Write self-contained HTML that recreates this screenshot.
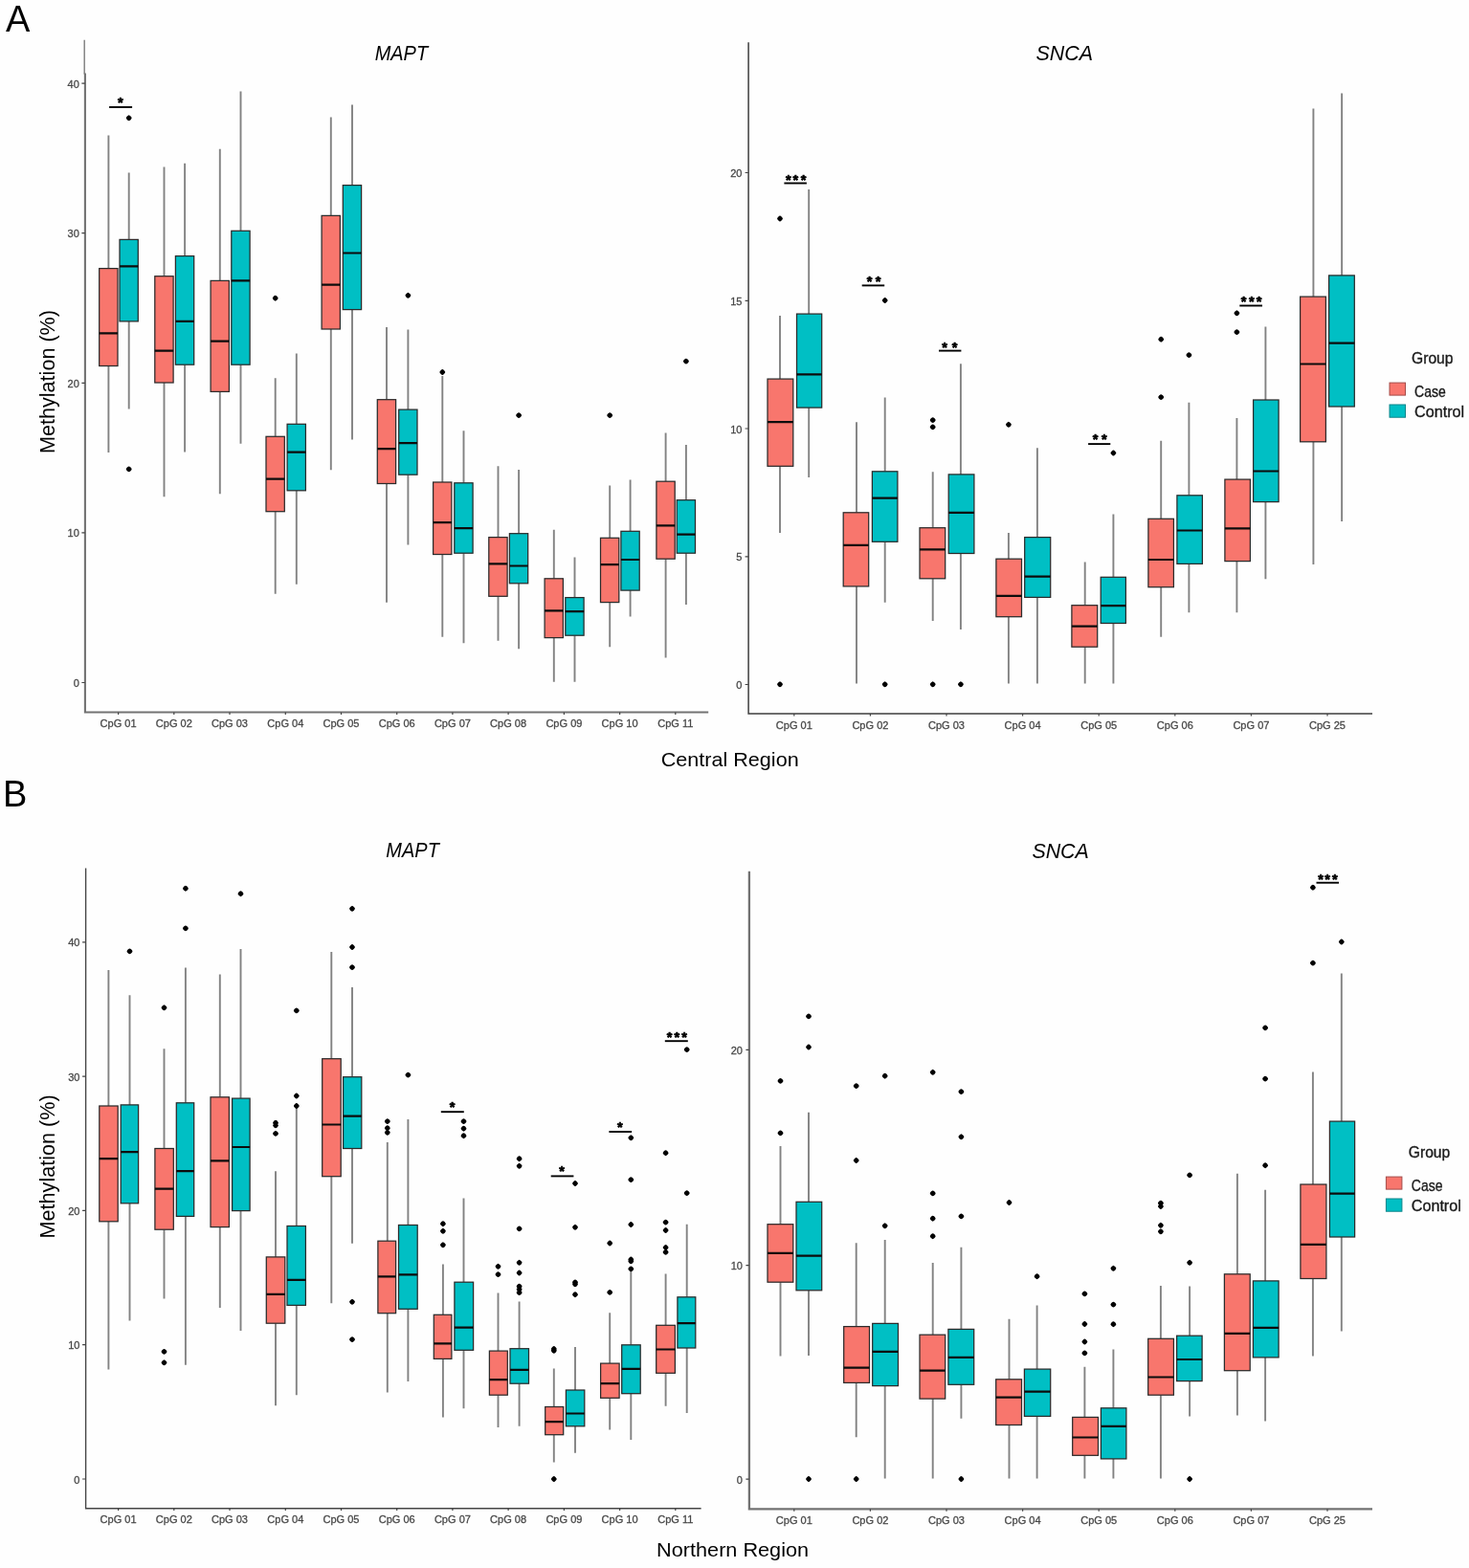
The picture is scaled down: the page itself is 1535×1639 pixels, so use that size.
<!DOCTYPE html>
<html lang="en"><head><meta charset="utf-8"><title>MAPT and SNCA methylation by region</title>
<style>
html,body{margin:0;padding:0;background:#fff;}
body{width:1535px;height:1639px;overflow:hidden;}
svg{display:block;}
text{font-family:"Liberation Sans",Arial,Helvetica,sans-serif;fill:#111;}
.tk{font-size:11.8px;fill:#484848;stroke:#484848;stroke-width:0.3px;}
.star{font-size:14.5px;font-weight:bold;text-anchor:middle;fill:#000;stroke:#000;stroke-width:0.7px;stroke-linejoin:round;}
.panel{font-size:38px;fill:#000;}
.title{font-size:21.4px;font-style:italic;text-anchor:middle;fill:#000;}
.axl{font-size:20.5px;text-anchor:middle;fill:#000;}
.ayl{font-size:21.5px;text-anchor:middle;fill:#000;}
.lgt{font-size:16.2px;fill:#1a1a1a;stroke:#1a1a1a;stroke-width:0.35px;}
.lg{font-size:16.2px;fill:#1a1a1a;stroke:#1a1a1a;stroke-width:0.35px;}
</style></head><body>
<svg width="1535" height="1639" viewBox="0 0 1535 1639">
<rect width="1535" height="1639" fill="#fefefe"/>
<g>
<text x="5.9" y="32.6" class="panel">A</text>
<text x="2.9" y="843.1" class="panel">B</text>
<path d="M88.2 41.7V77.5" stroke="#7c7c7c" stroke-width="1.4" fill="none"/>
<path d="M88.9 76.5V744.5H740.2" stroke="#727272" stroke-width="2.1" fill="none"/>
<path d="M85.4 87.1H88.9M85.4 243.7H88.9M85.4 400.3H88.9M85.4 556.9H88.9M85.4 713.5H88.9M123.6 744.5V746.9M181.8 744.5V746.9M240 744.5V746.9M298.3 744.5V746.9M356.5 744.5V746.9M414.7 744.5V746.9M472.9 744.5V746.9M531.1 744.5V746.9M589.4 744.5V746.9M647.6 744.5V746.9M705.8 744.5V746.9" stroke="#444" stroke-width="1.2" fill="none"/>
<text transform="translate(82.8 91.6) scale(0.935 1)" class="tk" text-anchor="end">40</text>
<text transform="translate(82.8 248.2) scale(0.935 1)" class="tk" text-anchor="end">30</text>
<text transform="translate(82.8 404.8) scale(0.935 1)" class="tk" text-anchor="end">20</text>
<text transform="translate(82.8 561.4) scale(0.935 1)" class="tk" text-anchor="end">10</text>
<text transform="translate(82.8 718) scale(0.935 1)" class="tk" text-anchor="end">0</text>
<text transform="translate(123.6 760) scale(0.935 1)" class="tk" text-anchor="middle">CpG 01</text>
<text transform="translate(181.8 760) scale(0.935 1)" class="tk" text-anchor="middle">CpG 02</text>
<text transform="translate(240 760) scale(0.935 1)" class="tk" text-anchor="middle">CpG 03</text>
<text transform="translate(298.3 760) scale(0.935 1)" class="tk" text-anchor="middle">CpG 04</text>
<text transform="translate(356.5 760) scale(0.935 1)" class="tk" text-anchor="middle">CpG 05</text>
<text transform="translate(414.7 760) scale(0.935 1)" class="tk" text-anchor="middle">CpG 06</text>
<text transform="translate(472.9 760) scale(0.935 1)" class="tk" text-anchor="middle">CpG 07</text>
<text transform="translate(531.1 760) scale(0.935 1)" class="tk" text-anchor="middle">CpG 08</text>
<text transform="translate(589.4 760) scale(0.935 1)" class="tk" text-anchor="middle">CpG 09</text>
<text transform="translate(647.6 760) scale(0.935 1)" class="tk" text-anchor="middle">CpG 10</text>
<text transform="translate(705.8 760) scale(0.935 1)" class="tk" text-anchor="middle">CpG 11</text>
<g id="a-mapt">
<path d="M113.4 141.5V280.6M113.4 382.5V473M134.7 180.6V250.4M134.7 335.9V427.4M171.5 174.6V288.7M171.5 400V519.3M193.1 170.7V267.6M193.1 381.2V472.4M229.8 155.8V293.4M229.8 409.4V516.2M251.5 95.4V241.3M251.5 381.2V463.8M287.7 395.3V456.3M287.7 534.7V620.7M309.8 369.5V443.3M309.8 512.8V610.8M345.8 122.5V225.4M345.8 344V491.2M368 109.4V193.6M368 323.6V459.4M404 341.9V417.7M404 505.5V629.8M426.4 344.5V428.1M426.4 496.2V569.4M462.3 393V504M462.3 579.5V665.8M484.5 450.3V504.8M484.5 578.2V672.3M520.5 487.3V561.6M520.5 623.3V669.7M542.1 491V557.7M542.1 609.8V678.3M578.8 553.7V604.8M578.8 666.6V712.7M600.5 582.4V624.6M600.5 664.2V712.7M637.2 507.4V562.3M637.2 629.6V676.2M658.6 501.6V555.3M658.6 617.1V644.4M695.6 452.4V503.2M695.6 584.2V687.4M716.9 465.1V522.7M716.9 578.2V631.9" stroke="#828282" stroke-width="1.9" fill="none"/>
<rect x="103.7" y="280.6" width="19.3" height="101.9" fill="#F8766D" stroke="#2b2b2b" stroke-width="1.25"/>
<rect x="125" y="250.4" width="19.3" height="85.5" fill="#00BFC4" stroke="#2b2b2b" stroke-width="1.25"/>
<rect x="161.8" y="288.7" width="19.3" height="111.3" fill="#F8766D" stroke="#2b2b2b" stroke-width="1.25"/>
<rect x="183.4" y="267.6" width="19.3" height="113.6" fill="#00BFC4" stroke="#2b2b2b" stroke-width="1.25"/>
<rect x="220.1" y="293.4" width="19.3" height="116" fill="#F8766D" stroke="#2b2b2b" stroke-width="1.25"/>
<rect x="241.8" y="241.3" width="19.3" height="139.9" fill="#00BFC4" stroke="#2b2b2b" stroke-width="1.25"/>
<rect x="278" y="456.3" width="19.3" height="78.4" fill="#F8766D" stroke="#2b2b2b" stroke-width="1.25"/>
<rect x="300.1" y="443.3" width="19.3" height="69.5" fill="#00BFC4" stroke="#2b2b2b" stroke-width="1.25"/>
<rect x="336.1" y="225.4" width="19.3" height="118.6" fill="#F8766D" stroke="#2b2b2b" stroke-width="1.25"/>
<rect x="358.3" y="193.6" width="19.3" height="130" fill="#00BFC4" stroke="#2b2b2b" stroke-width="1.25"/>
<rect x="394.3" y="417.7" width="19.3" height="87.8" fill="#F8766D" stroke="#2b2b2b" stroke-width="1.25"/>
<rect x="416.7" y="428.1" width="19.3" height="68.1" fill="#00BFC4" stroke="#2b2b2b" stroke-width="1.25"/>
<rect x="452.6" y="504" width="19.3" height="75.5" fill="#F8766D" stroke="#2b2b2b" stroke-width="1.25"/>
<rect x="474.8" y="504.8" width="19.3" height="73.4" fill="#00BFC4" stroke="#2b2b2b" stroke-width="1.25"/>
<rect x="510.8" y="561.6" width="19.3" height="61.7" fill="#F8766D" stroke="#2b2b2b" stroke-width="1.25"/>
<rect x="532.4" y="557.7" width="19.3" height="52.1" fill="#00BFC4" stroke="#2b2b2b" stroke-width="1.25"/>
<rect x="569.1" y="604.8" width="19.3" height="61.8" fill="#F8766D" stroke="#2b2b2b" stroke-width="1.25"/>
<rect x="590.8" y="624.6" width="19.3" height="39.6" fill="#00BFC4" stroke="#2b2b2b" stroke-width="1.25"/>
<rect x="627.5" y="562.3" width="19.3" height="67.3" fill="#F8766D" stroke="#2b2b2b" stroke-width="1.25"/>
<rect x="648.9" y="555.3" width="19.3" height="61.8" fill="#00BFC4" stroke="#2b2b2b" stroke-width="1.25"/>
<rect x="685.9" y="503.2" width="19.3" height="81" fill="#F8766D" stroke="#2b2b2b" stroke-width="1.25"/>
<rect x="707.2" y="522.7" width="19.3" height="55.5" fill="#00BFC4" stroke="#2b2b2b" stroke-width="1.25"/>
<path d="M103.7 348.4H123M125 278.3H144.3M161.8 366.6H181.1M183.4 335.9H202.7M220.1 356.7H239.4M241.8 293.4H261.1M278 500.6H297.3M300.1 472.7H319.4M336.1 297.6H355.4M358.3 264.5H377.6M394.3 469.1H413.6M416.7 463.1H436M452.6 546.2H471.9M474.8 552.2H494.1M510.8 589.4H530.1M532.4 591.5H551.7M569.1 638.4H588.4M590.8 639.2H610.1M627.5 590.2H646.8M648.9 585H668.2M685.9 549.3H705.2M707.2 558.7H726.5" stroke="#0c0c0c" stroke-width="2.2" fill="none"/>
<path d="M137.65 123.30L137.34 124.08L136.53 125.13L135.48 125.94L134.70 126.25L133.92 125.94L132.87 125.13L132.06 124.08L131.75 123.30L132.06 122.52L132.87 121.47L133.92 120.66L134.70 120.35L135.48 120.66L136.53 121.47L137.34 122.52ZM137.65 490.40L137.34 491.18L136.53 492.23L135.48 493.04L134.70 493.35L133.92 493.04L132.87 492.23L132.06 491.18L131.75 490.40L132.06 489.62L132.87 488.57L133.92 487.76L134.70 487.45L135.48 487.76L136.53 488.57L137.34 489.62ZM290.65 311.70L290.34 312.48L289.53 313.53L288.48 314.34L287.70 314.65L286.92 314.34L285.87 313.53L285.06 312.48L284.75 311.70L285.06 310.92L285.87 309.87L286.92 309.06L287.70 308.75L288.48 309.06L289.53 309.87L290.34 310.92ZM429.35 308.80L429.04 309.58L428.23 310.63L427.18 311.44L426.40 311.75L425.62 311.44L424.57 310.63L423.76 309.58L423.45 308.80L423.76 308.02L424.57 306.97L425.62 306.16L426.40 305.85L427.18 306.16L428.23 306.97L429.04 308.02ZM465.25 389.00L464.94 389.78L464.13 390.83L463.08 391.64L462.30 391.95L461.52 391.64L460.47 390.83L459.66 389.78L459.35 389.00L459.66 388.22L460.47 387.17L461.52 386.36L462.30 386.05L463.08 386.36L464.13 387.17L464.94 388.22ZM545.05 434.10L544.74 434.88L543.93 435.93L542.88 436.74L542.10 437.05L541.32 436.74L540.27 435.93L539.46 434.88L539.15 434.10L539.46 433.32L540.27 432.27L541.32 431.46L542.10 431.15L542.88 431.46L543.93 432.27L544.74 433.32ZM640.15 434.10L639.84 434.88L639.03 435.93L637.98 436.74L637.20 437.05L636.42 436.74L635.37 435.93L634.56 434.88L634.25 434.10L634.56 433.32L635.37 432.27L636.42 431.46L637.20 431.15L637.98 431.46L639.03 432.27L639.84 433.32ZM719.85 377.60L719.54 378.38L718.73 379.43L717.68 380.24L716.90 380.55L716.12 380.24L715.07 379.43L714.26 378.38L713.95 377.60L714.26 376.82L715.07 375.77L716.12 374.96L716.90 374.65L717.68 374.96L718.73 375.77L719.54 376.82Z" fill="#000"/>
</g>
<path d="M114.1 112H138.1" stroke="#000" stroke-width="1.9" fill="none"/>
<text x="125.9" y="111.8" class="star">*</text>
<text x="419.4" y="63.3" class="title" textLength="55.5" lengthAdjust="spacingAndGlyphs">MAPT</text>
<path d="M782.1 44.3V746.1H1434" stroke="#3e3e3e" stroke-width="1.5" fill="none"/>
<path d="M778.6 180.5H782.1M778.6 314.3H782.1M778.6 448H782.1M778.6 581.8H782.1M778.6 715.5H782.1M829.8 746.1V748.5M909.4 746.1V748.5M989 746.1V748.5M1068.6 746.1V748.5M1148.2 746.1V748.5M1227.8 746.1V748.5M1307.4 746.1V748.5M1387 746.1V748.5" stroke="#444" stroke-width="1.2" fill="none"/>
<text transform="translate(775.5 185) scale(0.935 1)" class="tk" text-anchor="end">20</text>
<text transform="translate(775.5 318.8) scale(0.935 1)" class="tk" text-anchor="end">15</text>
<text transform="translate(775.5 452.5) scale(0.935 1)" class="tk" text-anchor="end">10</text>
<text transform="translate(775.5 586.3) scale(0.935 1)" class="tk" text-anchor="end">5</text>
<text transform="translate(775.5 720) scale(0.935 1)" class="tk" text-anchor="end">0</text>
<text transform="translate(829.8 761.5) scale(0.935 1)" class="tk" text-anchor="middle">CpG 01</text>
<text transform="translate(909.4 761.5) scale(0.935 1)" class="tk" text-anchor="middle">CpG 02</text>
<text transform="translate(989 761.5) scale(0.935 1)" class="tk" text-anchor="middle">CpG 03</text>
<text transform="translate(1068.6 761.5) scale(0.935 1)" class="tk" text-anchor="middle">CpG 04</text>
<text transform="translate(1148.2 761.5) scale(0.935 1)" class="tk" text-anchor="middle">CpG 05</text>
<text transform="translate(1227.8 761.5) scale(0.935 1)" class="tk" text-anchor="middle">CpG 06</text>
<text transform="translate(1307.4 761.5) scale(0.935 1)" class="tk" text-anchor="middle">CpG 07</text>
<text transform="translate(1387 761.5) scale(0.935 1)" class="tk" text-anchor="middle">CpG 25</text>
<g id="a-snca">
<path d="M815 329.9V396.1M815 487.3V557.1M845.2 198V328.1M845.2 426.1V499M895 441.2V535.8M895 612.9V714.5M924.7 415.6V492.8M924.7 566.3V629.8M974.7 493.3V551.7M974.7 604.8V648.9M1003.9 380.2V495.9M1003.9 578.5V658M1053.9 557.1V584.2M1053.9 644.7V714.5M1083.9 468.3V561.6M1083.9 624.4V714.5M1133.7 587.6V632.7M1133.7 676.2V714.5M1163.4 537.6V603.3M1163.4 651.5V714.5M1213.2 460.7V542.3M1213.2 613.7V665.8M1242.4 420.8V517.8M1242.4 589.4V640.3M1292.4 437V501.1M1292.4 586.6V640.3M1322.4 341.4V418M1322.4 524.6V605.3M1372.4 113.4V310.1M1372.4 461.8V590M1402.1 97.5V287.9M1402.1 425V545.1" stroke="#828282" stroke-width="1.9" fill="none"/>
<rect x="802" y="396.1" width="26.8" height="91.2" fill="#F8766D" stroke="#2b2b2b" stroke-width="1.25"/>
<rect x="832.5" y="328.1" width="26.2" height="98" fill="#00BFC4" stroke="#2b2b2b" stroke-width="1.25"/>
<rect x="881.2" y="535.8" width="26.5" height="77.1" fill="#F8766D" stroke="#2b2b2b" stroke-width="1.25"/>
<rect x="911.4" y="492.8" width="26.5" height="73.5" fill="#00BFC4" stroke="#2b2b2b" stroke-width="1.25"/>
<rect x="961" y="551.7" width="26.7" height="53.1" fill="#F8766D" stroke="#2b2b2b" stroke-width="1.25"/>
<rect x="991.2" y="495.9" width="26.7" height="82.6" fill="#00BFC4" stroke="#2b2b2b" stroke-width="1.25"/>
<rect x="1040.9" y="584.2" width="26.6" height="60.5" fill="#F8766D" stroke="#2b2b2b" stroke-width="1.25"/>
<rect x="1070.7" y="561.6" width="27" height="62.8" fill="#00BFC4" stroke="#2b2b2b" stroke-width="1.25"/>
<rect x="1119.9" y="632.7" width="26.8" height="43.5" fill="#F8766D" stroke="#2b2b2b" stroke-width="1.25"/>
<rect x="1150.2" y="603.3" width="26.2" height="48.2" fill="#00BFC4" stroke="#2b2b2b" stroke-width="1.25"/>
<rect x="1199.9" y="542.3" width="26.5" height="71.4" fill="#F8766D" stroke="#2b2b2b" stroke-width="1.25"/>
<rect x="1229.9" y="517.8" width="26.5" height="71.6" fill="#00BFC4" stroke="#2b2b2b" stroke-width="1.25"/>
<rect x="1279.9" y="501.1" width="26.5" height="85.5" fill="#F8766D" stroke="#2b2b2b" stroke-width="1.25"/>
<rect x="1309.6" y="418" width="26.5" height="106.6" fill="#00BFC4" stroke="#2b2b2b" stroke-width="1.25"/>
<rect x="1358.6" y="310.1" width="26.8" height="151.7" fill="#F8766D" stroke="#2b2b2b" stroke-width="1.25"/>
<rect x="1388.6" y="287.9" width="26.7" height="137.1" fill="#00BFC4" stroke="#2b2b2b" stroke-width="1.25"/>
<path d="M802 441.2H828.8M832.5 391.4H858.7M881.2 569.9H907.7M911.4 520.7H937.9M961 574.3H987.7M991.2 535.8H1017.9M1040.9 622.8H1067.5M1070.7 602.7H1097.7M1119.9 654.6H1146.7M1150.2 633.2H1176.4M1199.9 585H1226.4M1229.9 554.5H1256.4M1279.9 552.4H1306.4M1309.6 492.5H1336.1M1358.6 380.5H1385.4M1388.6 358.6H1415.3" stroke="#0c0c0c" stroke-width="2.2" fill="none"/>
<path d="M817.95 228.50L817.64 229.28L816.83 230.33L815.78 231.14L815.00 231.45L814.22 231.14L813.17 230.33L812.36 229.28L812.05 228.50L812.36 227.72L813.17 226.67L814.22 225.86L815.00 225.55L815.78 225.86L816.83 226.67L817.64 227.72ZM817.95 715.30L817.64 716.08L816.83 717.13L815.78 717.94L815.00 718.25L814.22 717.94L813.17 717.13L812.36 716.08L812.05 715.30L812.36 714.52L813.17 713.47L814.22 712.66L815.00 712.35L815.78 712.66L816.83 713.47L817.64 714.52ZM927.65 314.00L927.34 314.78L926.53 315.83L925.48 316.64L924.70 316.95L923.92 316.64L922.87 315.83L922.06 314.78L921.75 314.00L922.06 313.22L922.87 312.17L923.92 311.36L924.70 311.05L925.48 311.36L926.53 312.17L927.34 313.22ZM927.65 715.30L927.34 716.08L926.53 717.13L925.48 717.94L924.70 718.25L923.92 717.94L922.87 717.13L922.06 716.08L921.75 715.30L922.06 714.52L922.87 713.47L923.92 712.66L924.70 712.35L925.48 712.66L926.53 713.47L927.34 714.52ZM977.65 439.10L977.34 439.88L976.53 440.93L975.48 441.74L974.70 442.05L973.92 441.74L972.87 440.93L972.06 439.88L971.75 439.10L972.06 438.32L972.87 437.27L973.92 436.46L974.70 436.15L975.48 436.46L976.53 437.27L977.34 438.32ZM977.65 446.40L977.34 447.18L976.53 448.23L975.48 449.04L974.70 449.35L973.92 449.04L972.87 448.23L972.06 447.18L971.75 446.40L972.06 445.62L972.87 444.57L973.92 443.76L974.70 443.45L975.48 443.76L976.53 444.57L977.34 445.62ZM977.65 715.30L977.34 716.08L976.53 717.13L975.48 717.94L974.70 718.25L973.92 717.94L972.87 717.13L972.06 716.08L971.75 715.30L972.06 714.52L972.87 713.47L973.92 712.66L974.70 712.35L975.48 712.66L976.53 713.47L977.34 714.52ZM1006.85 715.30L1006.54 716.08L1005.73 717.13L1004.68 717.94L1003.90 718.25L1003.12 717.94L1002.07 717.13L1001.26 716.08L1000.95 715.30L1001.26 714.52L1002.07 713.47L1003.12 712.66L1003.90 712.35L1004.68 712.66L1005.73 713.47L1006.54 714.52ZM1056.85 443.80L1056.54 444.58L1055.73 445.63L1054.68 446.44L1053.90 446.75L1053.12 446.44L1052.07 445.63L1051.26 444.58L1050.95 443.80L1051.26 443.02L1052.07 441.97L1053.12 441.16L1053.90 440.85L1054.68 441.16L1055.73 441.97L1056.54 443.02ZM1166.35 473.50L1166.04 474.28L1165.23 475.33L1164.18 476.14L1163.40 476.45L1162.62 476.14L1161.57 475.33L1160.76 474.28L1160.45 473.50L1160.76 472.72L1161.57 471.67L1162.62 470.86L1163.40 470.55L1164.18 470.86L1165.23 471.67L1166.04 472.72ZM1216.15 354.70L1215.84 355.48L1215.03 356.53L1213.98 357.34L1213.20 357.65L1212.42 357.34L1211.37 356.53L1210.56 355.48L1210.25 354.70L1210.56 353.92L1211.37 352.87L1212.42 352.06L1213.20 351.75L1213.98 352.06L1215.03 352.87L1215.84 353.92ZM1216.15 415.10L1215.84 415.88L1215.03 416.93L1213.98 417.74L1213.20 418.05L1212.42 417.74L1211.37 416.93L1210.56 415.88L1210.25 415.10L1210.56 414.32L1211.37 413.27L1212.42 412.46L1213.20 412.15L1213.98 412.46L1215.03 413.27L1215.84 414.32ZM1245.35 371.10L1245.04 371.88L1244.23 372.93L1243.18 373.74L1242.40 374.05L1241.62 373.74L1240.57 372.93L1239.76 371.88L1239.45 371.10L1239.76 370.32L1240.57 369.27L1241.62 368.46L1242.40 368.15L1243.18 368.46L1244.23 369.27L1245.04 370.32ZM1295.35 327.30L1295.04 328.08L1294.23 329.13L1293.18 329.94L1292.40 330.25L1291.62 329.94L1290.57 329.13L1289.76 328.08L1289.45 327.30L1289.76 326.52L1290.57 325.47L1291.62 324.66L1292.40 324.35L1293.18 324.66L1294.23 325.47L1295.04 326.52ZM1295.35 347.10L1295.04 347.88L1294.23 348.93L1293.18 349.74L1292.40 350.05L1291.62 349.74L1290.57 348.93L1289.76 347.88L1289.45 347.10L1289.76 346.32L1290.57 345.27L1291.62 344.46L1292.40 344.15L1293.18 344.46L1294.23 345.27L1295.04 346.32Z" fill="#000"/>
</g>
<path d="M819.4 191.5H842.9" stroke="#000" stroke-width="1.9" fill="none"/>
<text x="823.8" y="192.5" class="star">*</text>
<text x="831.4" y="192.5" class="star">*</text>
<text x="839.5" y="192.5" class="star">*</text>
<path d="M900.7 298.4H924.2" stroke="#000" stroke-width="1.9" fill="none"/>
<text x="908.5" y="299.4" class="star">*</text>
<text x="917.7" y="299.4" class="star">*</text>
<path d="M981 366.6H1004.4" stroke="#000" stroke-width="1.9" fill="none"/>
<text x="987.2" y="367.7" class="star">*</text>
<text x="997.7" y="367.7" class="star">*</text>
<path d="M1137.1 464.1H1160.3" stroke="#000" stroke-width="1.9" fill="none"/>
<text x="1144.6" y="464.4" class="star">*</text>
<text x="1153.8" y="464.4" class="star">*</text>
<path d="M1295.3 319.5H1319" stroke="#000" stroke-width="1.9" fill="none"/>
<text x="1299.7" y="320" class="star">*</text>
<text x="1307.8" y="320" class="star">*</text>
<text x="1315.6" y="320" class="star">*</text>
<text x="1112.3" y="62.7" class="title">SNCA</text>
<text x="762.7" y="801" class="axl" style="font-size:19.8px" textLength="144" lengthAdjust="spacingAndGlyphs">Central Region</text>
<text transform="translate(56.8 399) rotate(-90)" class="ayl" textLength="150" lengthAdjust="spacingAndGlyphs">Methylation (%)</text>
<text x="1475.1" y="379.5" class="lgt" style="font-size:15.8px" textLength="43.4" lengthAdjust="spacingAndGlyphs">Group</text>
<rect x="1452" y="400.1" width="16.5" height="13" fill="#F8766D" stroke="#a34c49" stroke-width="1"/>
<rect x="1452" y="423" width="16.5" height="13.2" fill="#00BFC4" stroke="#0a8489" stroke-width="1"/>
<text x="1478.1" y="414.8" class="lg" textLength="32.6" lengthAdjust="spacingAndGlyphs">Case</text>
<text x="1478.1" y="436.1" class="lg" textLength="52" lengthAdjust="spacingAndGlyphs">Control</text>
<path d="M89.6 907.6V1576.7H732.6" stroke="#454545" stroke-width="1.4" fill="none"/>
<path d="M86.1 984.8H89.6M86.1 1125.1H89.6M86.1 1265.4H89.6M86.1 1405.7H89.6M86.1 1546H89.6M123.6 1576.7V1579.1M181.8 1576.7V1579.1M240 1576.7V1579.1M298.3 1576.7V1579.1M356.5 1576.7V1579.1M414.7 1576.7V1579.1M472.9 1576.7V1579.1M531.1 1576.7V1579.1M589.4 1576.7V1579.1M647.6 1576.7V1579.1M705.8 1576.7V1579.1" stroke="#444" stroke-width="1.2" fill="none"/>
<text transform="translate(83.5 989.3) scale(0.935 1)" class="tk" text-anchor="end">40</text>
<text transform="translate(83.5 1129.6) scale(0.935 1)" class="tk" text-anchor="end">30</text>
<text transform="translate(83.5 1269.9) scale(0.935 1)" class="tk" text-anchor="end">20</text>
<text transform="translate(83.5 1410.2) scale(0.935 1)" class="tk" text-anchor="end">10</text>
<text transform="translate(83.5 1550.5) scale(0.935 1)" class="tk" text-anchor="end">0</text>
<text transform="translate(123.6 1592.3) scale(0.935 1)" class="tk" text-anchor="middle">CpG 01</text>
<text transform="translate(181.8 1592.3) scale(0.935 1)" class="tk" text-anchor="middle">CpG 02</text>
<text transform="translate(240 1592.3) scale(0.935 1)" class="tk" text-anchor="middle">CpG 03</text>
<text transform="translate(298.3 1592.3) scale(0.935 1)" class="tk" text-anchor="middle">CpG 04</text>
<text transform="translate(356.5 1592.3) scale(0.935 1)" class="tk" text-anchor="middle">CpG 05</text>
<text transform="translate(414.7 1592.3) scale(0.935 1)" class="tk" text-anchor="middle">CpG 06</text>
<text transform="translate(472.9 1592.3) scale(0.935 1)" class="tk" text-anchor="middle">CpG 07</text>
<text transform="translate(531.1 1592.3) scale(0.935 1)" class="tk" text-anchor="middle">CpG 08</text>
<text transform="translate(589.4 1592.3) scale(0.935 1)" class="tk" text-anchor="middle">CpG 09</text>
<text transform="translate(647.6 1592.3) scale(0.935 1)" class="tk" text-anchor="middle">CpG 10</text>
<text transform="translate(705.8 1592.3) scale(0.935 1)" class="tk" text-anchor="middle">CpG 11</text>
<g id="b-mapt">
<path d="M113.4 1013.9V1156M113.4 1276.8V1431.4M135.5 1040.3V1154.9M135.5 1257.8V1380.6M171.5 1096.3V1200.5M171.5 1285.2V1357.6M193.9 1011.6V1152.8M193.9 1271.4V1426.7M229.8 1018.4V1146.8M229.8 1282.6V1367M251.5 992.1V1148.1M251.5 1265.6V1391M288 1224.2V1313.9M288 1383.2V1469.2M309.8 1158.3V1281.5M309.8 1364.4V1458.2M346.3 994.9V1106.7M346.3 1229.7V1362.3M368 1031.9V1125.7M368 1200.5V1299.8M404.8 1194V1297.2M404.8 1372.7V1455.6M426.4 1170V1280.5M426.4 1368.3V1443.9M462.9 1321.4V1374.3M462.9 1420.4V1481.4M484.5 1252.4V1340.2M484.5 1411.3V1472.3M520.5 1351.4V1412.1M520.5 1458.2V1492.1M542.6 1360.5V1409.7M542.6 1446.2V1490.8M578.8 1430.6V1470.5M578.8 1499.7V1528.6M601 1407.9V1453M601 1490.8V1518.7M637.2 1372.2V1425.1M637.2 1461.3V1494.4M659.3 1328.4V1405.8M659.3 1456.7V1504.9M695.6 1331.6V1385.3M695.6 1435.3V1469.7M717.7 1279.7V1355.8M717.7 1409V1477" stroke="#828282" stroke-width="1.9" fill="none"/>
<rect x="103.8" y="1156" width="19.4" height="120.8" fill="#F8766D" stroke="#2b2b2b" stroke-width="1.25"/>
<rect x="126.2" y="1154.9" width="18.4" height="102.9" fill="#00BFC4" stroke="#2b2b2b" stroke-width="1.25"/>
<rect x="161.9" y="1200.5" width="19.4" height="84.7" fill="#F8766D" stroke="#2b2b2b" stroke-width="1.25"/>
<rect x="184.3" y="1152.8" width="18.4" height="118.6" fill="#00BFC4" stroke="#2b2b2b" stroke-width="1.25"/>
<rect x="220" y="1146.8" width="19.4" height="135.8" fill="#F8766D" stroke="#2b2b2b" stroke-width="1.25"/>
<rect x="242.6" y="1148.1" width="18.5" height="117.5" fill="#00BFC4" stroke="#2b2b2b" stroke-width="1.25"/>
<rect x="278.3" y="1313.9" width="19.5" height="69.3" fill="#F8766D" stroke="#2b2b2b" stroke-width="1.25"/>
<rect x="300" y="1281.5" width="19.4" height="82.9" fill="#00BFC4" stroke="#2b2b2b" stroke-width="1.25"/>
<rect x="336.7" y="1106.7" width="19.5" height="123" fill="#F8766D" stroke="#2b2b2b" stroke-width="1.25"/>
<rect x="358.6" y="1125.7" width="19.2" height="74.8" fill="#00BFC4" stroke="#2b2b2b" stroke-width="1.25"/>
<rect x="394.9" y="1297.2" width="18.7" height="75.5" fill="#F8766D" stroke="#2b2b2b" stroke-width="1.25"/>
<rect x="416.5" y="1280.5" width="19.7" height="87.8" fill="#00BFC4" stroke="#2b2b2b" stroke-width="1.25"/>
<rect x="453.3" y="1374.3" width="18.6" height="46.1" fill="#F8766D" stroke="#2b2b2b" stroke-width="1.25"/>
<rect x="474.9" y="1340.2" width="19.7" height="71.1" fill="#00BFC4" stroke="#2b2b2b" stroke-width="1.25"/>
<rect x="511.4" y="1412.1" width="18.9" height="46.1" fill="#F8766D" stroke="#2b2b2b" stroke-width="1.25"/>
<rect x="533" y="1409.7" width="19.5" height="36.5" fill="#00BFC4" stroke="#2b2b2b" stroke-width="1.25"/>
<rect x="569.7" y="1470.5" width="19" height="29.2" fill="#F8766D" stroke="#2b2b2b" stroke-width="1.25"/>
<rect x="591.4" y="1453" width="19.4" height="37.8" fill="#00BFC4" stroke="#2b2b2b" stroke-width="1.25"/>
<rect x="627.6" y="1425.1" width="19.5" height="36.2" fill="#F8766D" stroke="#2b2b2b" stroke-width="1.25"/>
<rect x="649.7" y="1405.8" width="19.5" height="50.9" fill="#00BFC4" stroke="#2b2b2b" stroke-width="1.25"/>
<rect x="685.7" y="1385.3" width="19.7" height="50" fill="#F8766D" stroke="#2b2b2b" stroke-width="1.25"/>
<rect x="707.9" y="1355.8" width="18.9" height="53.2" fill="#00BFC4" stroke="#2b2b2b" stroke-width="1.25"/>
<path d="M103.8 1211.2H123.2M126.2 1204.2H144.6M161.9 1242.7H181.3M184.3 1224.2H202.7M220 1213.3H239.4M242.6 1199H261.1M278.3 1352.9H297.8M300 1337.8H319.4M336.7 1175.5H356.2M358.6 1166.6H377.8M394.9 1334.4H413.6M416.5 1332.4H436.2M453.3 1404.3H471.9M474.9 1387.6H494.6M511.4 1442.1H530.3M533 1431.9H552.5M569.7 1486.1H588.7M591.4 1477.5H610.8M627.6 1446.2H647.1M649.7 1430.9H669.2M685.7 1410.5H705.4M707.9 1383.2H726.8" stroke="#0c0c0c" stroke-width="2.2" fill="none"/>
<path d="M138.45 994.40L138.14 995.18L137.33 996.23L136.28 997.04L135.50 997.35L134.72 997.04L133.67 996.23L132.86 995.18L132.55 994.40L132.86 993.62L133.67 992.57L134.72 991.76L135.50 991.45L136.28 991.76L137.33 992.57L138.14 993.62ZM174.45 1053.30L174.14 1054.08L173.33 1055.13L172.28 1055.94L171.50 1056.25L170.72 1055.94L169.67 1055.13L168.86 1054.08L168.55 1053.30L168.86 1052.52L169.67 1051.47L170.72 1050.66L171.50 1050.35L172.28 1050.66L173.33 1051.47L174.14 1052.52ZM174.45 1412.90L174.14 1413.68L173.33 1414.73L172.28 1415.54L171.50 1415.85L170.72 1415.54L169.67 1414.73L168.86 1413.68L168.55 1412.90L168.86 1412.12L169.67 1411.07L170.72 1410.26L171.50 1409.95L172.28 1410.26L173.33 1411.07L174.14 1412.12ZM174.45 1424.30L174.14 1425.08L173.33 1426.13L172.28 1426.94L171.50 1427.25L170.72 1426.94L169.67 1426.13L168.86 1425.08L168.55 1424.30L168.86 1423.52L169.67 1422.47L170.72 1421.66L171.50 1421.35L172.28 1421.66L173.33 1422.47L174.14 1423.52ZM196.85 928.70L196.54 929.48L195.73 930.53L194.68 931.34L193.90 931.65L193.12 931.34L192.07 930.53L191.26 929.48L190.95 928.70L191.26 927.92L192.07 926.87L193.12 926.06L193.90 925.75L194.68 926.06L195.73 926.87L196.54 927.92ZM196.85 970.40L196.54 971.18L195.73 972.23L194.68 973.04L193.90 973.35L193.12 973.04L192.07 972.23L191.26 971.18L190.95 970.40L191.26 969.62L192.07 968.57L193.12 967.76L193.90 967.45L194.68 967.76L195.73 968.57L196.54 969.62ZM254.45 934.20L254.14 934.98L253.33 936.03L252.28 936.84L251.50 937.15L250.72 936.84L249.67 936.03L248.86 934.98L248.55 934.20L248.86 933.42L249.67 932.37L250.72 931.56L251.50 931.25L252.28 931.56L253.33 932.37L254.14 933.42ZM290.95 1173.70L290.64 1174.48L289.83 1175.53L288.78 1176.34L288.00 1176.65L287.22 1176.34L286.17 1175.53L285.36 1174.48L285.05 1173.70L285.36 1172.92L286.17 1171.87L287.22 1171.06L288.00 1170.75L288.78 1171.06L289.83 1171.87L290.64 1172.92ZM290.95 1176.30L290.64 1177.08L289.83 1178.13L288.78 1178.94L288.00 1179.25L287.22 1178.94L286.17 1178.13L285.36 1177.08L285.05 1176.30L285.36 1175.52L286.17 1174.47L287.22 1173.66L288.00 1173.35L288.78 1173.66L289.83 1174.47L290.64 1175.52ZM290.95 1184.90L290.64 1185.68L289.83 1186.73L288.78 1187.54L288.00 1187.85L287.22 1187.54L286.17 1186.73L285.36 1185.68L285.05 1184.90L285.36 1184.12L286.17 1183.07L287.22 1182.26L288.00 1181.95L288.78 1182.26L289.83 1183.07L290.64 1184.12ZM312.75 1056.40L312.44 1057.18L311.63 1058.23L310.58 1059.04L309.80 1059.35L309.02 1059.04L307.97 1058.23L307.16 1057.18L306.85 1056.40L307.16 1055.62L307.97 1054.57L309.02 1053.76L309.80 1053.45L310.58 1053.76L311.63 1054.57L312.44 1055.62ZM312.75 1145.50L312.44 1146.28L311.63 1147.33L310.58 1148.14L309.80 1148.45L309.02 1148.14L307.97 1147.33L307.16 1146.28L306.85 1145.50L307.16 1144.72L307.97 1143.67L309.02 1142.86L309.80 1142.55L310.58 1142.86L311.63 1143.67L312.44 1144.72ZM312.75 1156.00L312.44 1156.78L311.63 1157.83L310.58 1158.64L309.80 1158.95L309.02 1158.64L307.97 1157.83L307.16 1156.78L306.85 1156.00L307.16 1155.22L307.97 1154.17L309.02 1153.36L309.80 1153.05L310.58 1153.36L311.63 1154.17L312.44 1155.22ZM370.95 949.80L370.64 950.58L369.83 951.63L368.78 952.44L368.00 952.75L367.22 952.44L366.17 951.63L365.36 950.58L365.05 949.80L365.36 949.02L366.17 947.97L367.22 947.16L368.00 946.85L368.78 947.16L369.83 947.97L370.64 949.02ZM370.95 990.00L370.64 990.78L369.83 991.83L368.78 992.64L368.00 992.95L367.22 992.64L366.17 991.83L365.36 990.78L365.05 990.00L365.36 989.22L366.17 988.17L367.22 987.36L368.00 987.05L368.78 987.36L369.83 988.17L370.64 989.22ZM370.95 1011.10L370.64 1011.88L369.83 1012.93L368.78 1013.74L368.00 1014.05L367.22 1013.74L366.17 1012.93L365.36 1011.88L365.05 1011.10L365.36 1010.32L366.17 1009.27L367.22 1008.46L368.00 1008.15L368.78 1008.46L369.83 1009.27L370.64 1010.32ZM370.95 1360.80L370.64 1361.58L369.83 1362.63L368.78 1363.44L368.00 1363.75L367.22 1363.44L366.17 1362.63L365.36 1361.58L365.05 1360.80L365.36 1360.02L366.17 1358.97L367.22 1358.16L368.00 1357.85L368.78 1358.16L369.83 1358.97L370.64 1360.02ZM370.95 1400.10L370.64 1400.88L369.83 1401.93L368.78 1402.74L368.00 1403.05L367.22 1402.74L366.17 1401.93L365.36 1400.88L365.05 1400.10L365.36 1399.32L366.17 1398.27L367.22 1397.46L368.00 1397.15L368.78 1397.46L369.83 1398.27L370.64 1399.32ZM407.75 1172.10L407.44 1172.88L406.63 1173.93L405.58 1174.74L404.80 1175.05L404.02 1174.74L402.97 1173.93L402.16 1172.88L401.85 1172.10L402.16 1171.32L402.97 1170.27L404.02 1169.46L404.80 1169.15L405.58 1169.46L406.63 1170.27L407.44 1171.32ZM407.75 1179.20L407.44 1179.98L406.63 1181.03L405.58 1181.84L404.80 1182.15L404.02 1181.84L402.97 1181.03L402.16 1179.98L401.85 1179.20L402.16 1178.42L402.97 1177.37L404.02 1176.56L404.80 1176.25L405.58 1176.56L406.63 1177.37L407.44 1178.42ZM407.75 1183.80L407.44 1184.58L406.63 1185.63L405.58 1186.44L404.80 1186.75L404.02 1186.44L402.97 1185.63L402.16 1184.58L401.85 1183.80L402.16 1183.02L402.97 1181.97L404.02 1181.16L404.80 1180.85L405.58 1181.16L406.63 1181.97L407.44 1183.02ZM429.35 1123.60L429.04 1124.38L428.23 1125.43L427.18 1126.24L426.40 1126.55L425.62 1126.24L424.57 1125.43L423.76 1124.38L423.45 1123.60L423.76 1122.82L424.57 1121.77L425.62 1120.96L426.40 1120.65L427.18 1120.96L428.23 1121.77L429.04 1122.82ZM465.85 1279.20L465.54 1279.98L464.73 1281.03L463.68 1281.84L462.90 1282.15L462.12 1281.84L461.07 1281.03L460.26 1279.98L459.95 1279.20L460.26 1278.42L461.07 1277.37L462.12 1276.56L462.90 1276.25L463.68 1276.56L464.73 1277.37L465.54 1278.42ZM465.85 1286.80L465.54 1287.58L464.73 1288.63L463.68 1289.44L462.90 1289.75L462.12 1289.44L461.07 1288.63L460.26 1287.58L459.95 1286.80L460.26 1286.02L461.07 1284.97L462.12 1284.16L462.90 1283.85L463.68 1284.16L464.73 1284.97L465.54 1286.02ZM465.85 1301.30L465.54 1302.08L464.73 1303.13L463.68 1303.94L462.90 1304.25L462.12 1303.94L461.07 1303.13L460.26 1302.08L459.95 1301.30L460.26 1300.52L461.07 1299.47L462.12 1298.66L462.90 1298.35L463.68 1298.66L464.73 1299.47L465.54 1300.52ZM487.45 1172.10L487.14 1172.88L486.33 1173.93L485.28 1174.74L484.50 1175.05L483.72 1174.74L482.67 1173.93L481.86 1172.88L481.55 1172.10L481.86 1171.32L482.67 1170.27L483.72 1169.46L484.50 1169.15L485.28 1169.46L486.33 1170.27L487.14 1171.32ZM487.45 1179.70L487.14 1180.48L486.33 1181.53L485.28 1182.34L484.50 1182.65L483.72 1182.34L482.67 1181.53L481.86 1180.48L481.55 1179.70L481.86 1178.92L482.67 1177.87L483.72 1177.06L484.50 1176.75L485.28 1177.06L486.33 1177.87L487.14 1178.92ZM487.45 1187.20L487.14 1187.98L486.33 1189.03L485.28 1189.84L484.50 1190.15L483.72 1189.84L482.67 1189.03L481.86 1187.98L481.55 1187.20L481.86 1186.42L482.67 1185.37L483.72 1184.56L484.50 1184.25L485.28 1184.56L486.33 1185.37L487.14 1186.42ZM523.45 1323.80L523.14 1324.58L522.33 1325.63L521.28 1326.44L520.50 1326.75L519.72 1326.44L518.67 1325.63L517.86 1324.58L517.55 1323.80L517.86 1323.02L518.67 1321.97L519.72 1321.16L520.50 1320.85L521.28 1321.16L522.33 1321.97L523.14 1323.02ZM523.45 1332.10L523.14 1332.88L522.33 1333.93L521.28 1334.74L520.50 1335.05L519.72 1334.74L518.67 1333.93L517.86 1332.88L517.55 1332.10L517.86 1331.32L518.67 1330.27L519.72 1329.46L520.50 1329.15L521.28 1329.46L522.33 1330.27L523.14 1331.32ZM545.55 1211.20L545.24 1211.98L544.43 1213.03L543.38 1213.84L542.60 1214.15L541.82 1213.84L540.77 1213.03L539.96 1211.98L539.65 1211.20L539.96 1210.42L540.77 1209.37L541.82 1208.56L542.60 1208.25L543.38 1208.56L544.43 1209.37L545.24 1210.42ZM545.55 1218.80L545.24 1219.58L544.43 1220.63L543.38 1221.44L542.60 1221.75L541.82 1221.44L540.77 1220.63L539.96 1219.58L539.65 1218.80L539.96 1218.02L540.77 1216.97L541.82 1216.16L542.60 1215.85L543.38 1216.16L544.43 1216.97L545.24 1218.02ZM545.55 1284.40L545.24 1285.18L544.43 1286.23L543.38 1287.04L542.60 1287.35L541.82 1287.04L540.77 1286.23L539.96 1285.18L539.65 1284.40L539.96 1283.62L540.77 1282.57L541.82 1281.76L542.60 1281.45L543.38 1281.76L544.43 1282.57L545.24 1283.62ZM545.55 1319.80L545.24 1320.58L544.43 1321.63L543.38 1322.44L542.60 1322.75L541.82 1322.44L540.77 1321.63L539.96 1320.58L539.65 1319.80L539.96 1319.02L540.77 1317.97L541.82 1317.16L542.60 1316.85L543.38 1317.16L544.43 1317.97L545.24 1319.02ZM545.55 1330.50L545.24 1331.28L544.43 1332.33L543.38 1333.14L542.60 1333.45L541.82 1333.14L540.77 1332.33L539.96 1331.28L539.65 1330.50L539.96 1329.72L540.77 1328.67L541.82 1327.86L542.60 1327.55L543.38 1327.86L544.43 1328.67L545.24 1329.72ZM545.55 1344.60L545.24 1345.38L544.43 1346.43L543.38 1347.24L542.60 1347.55L541.82 1347.24L540.77 1346.43L539.96 1345.38L539.65 1344.60L539.96 1343.82L540.77 1342.77L541.82 1341.96L542.60 1341.65L543.38 1341.96L544.43 1342.77L545.24 1343.82ZM545.55 1347.70L545.24 1348.48L544.43 1349.53L543.38 1350.34L542.60 1350.65L541.82 1350.34L540.77 1349.53L539.96 1348.48L539.65 1347.70L539.96 1346.92L540.77 1345.87L541.82 1345.06L542.60 1344.75L543.38 1345.06L544.43 1345.87L545.24 1346.92ZM545.55 1351.10L545.24 1351.88L544.43 1352.93L543.38 1353.74L542.60 1354.05L541.82 1353.74L540.77 1352.93L539.96 1351.88L539.65 1351.10L539.96 1350.32L540.77 1349.27L541.82 1348.46L542.60 1348.15L543.38 1348.46L544.43 1349.27L545.24 1350.32ZM581.75 1410.00L581.44 1410.78L580.63 1411.83L579.58 1412.64L578.80 1412.95L578.02 1412.64L576.97 1411.83L576.16 1410.78L575.85 1410.00L576.16 1409.22L576.97 1408.17L578.02 1407.36L578.80 1407.05L579.58 1407.36L580.63 1408.17L581.44 1409.22ZM581.75 1411.80L581.44 1412.58L580.63 1413.63L579.58 1414.44L578.80 1414.75L578.02 1414.44L576.97 1413.63L576.16 1412.58L575.85 1411.80L576.16 1411.02L576.97 1409.97L578.02 1409.16L578.80 1408.85L579.58 1409.16L580.63 1409.97L581.44 1411.02ZM581.75 1546.00L581.44 1546.78L580.63 1547.83L579.58 1548.64L578.80 1548.95L578.02 1548.64L576.97 1547.83L576.16 1546.78L575.85 1546.00L576.16 1545.22L576.97 1544.17L578.02 1543.36L578.80 1543.05L579.58 1543.36L580.63 1544.17L581.44 1545.22ZM603.95 1237.00L603.64 1237.78L602.83 1238.83L601.78 1239.64L601.00 1239.95L600.22 1239.64L599.17 1238.83L598.36 1237.78L598.05 1237.00L598.36 1236.22L599.17 1235.17L600.22 1234.36L601.00 1234.05L601.78 1234.36L602.83 1235.17L603.64 1236.22ZM603.95 1282.80L603.64 1283.58L602.83 1284.63L601.78 1285.44L601.00 1285.75L600.22 1285.44L599.17 1284.63L598.36 1283.58L598.05 1282.80L598.36 1282.02L599.17 1280.97L600.22 1280.16L601.00 1279.85L601.78 1280.16L602.83 1280.97L603.64 1282.02ZM603.95 1340.40L603.64 1341.18L602.83 1342.23L601.78 1343.04L601.00 1343.35L600.22 1343.04L599.17 1342.23L598.36 1341.18L598.05 1340.40L598.36 1339.62L599.17 1338.57L600.22 1337.76L601.00 1337.45L601.78 1337.76L602.83 1338.57L603.64 1339.62ZM603.95 1342.30L603.64 1343.08L602.83 1344.13L601.78 1344.94L601.00 1345.25L600.22 1344.94L599.17 1344.13L598.36 1343.08L598.05 1342.30L598.36 1341.52L599.17 1340.47L600.22 1339.66L601.00 1339.35L601.78 1339.66L602.83 1340.47L603.64 1341.52ZM603.95 1353.20L603.64 1353.98L602.83 1355.03L601.78 1355.84L601.00 1356.15L600.22 1355.84L599.17 1355.03L598.36 1353.98L598.05 1353.20L598.36 1352.42L599.17 1351.37L600.22 1350.56L601.00 1350.25L601.78 1350.56L602.83 1351.37L603.64 1352.42ZM640.15 1299.50L639.84 1300.28L639.03 1301.33L637.98 1302.14L637.20 1302.45L636.42 1302.14L635.37 1301.33L634.56 1300.28L634.25 1299.50L634.56 1298.72L635.37 1297.67L636.42 1296.86L637.20 1296.55L637.98 1296.86L639.03 1297.67L639.84 1298.72ZM640.15 1350.90L639.84 1351.68L639.03 1352.73L637.98 1353.54L637.20 1353.85L636.42 1353.54L635.37 1352.73L634.56 1351.68L634.25 1350.90L634.56 1350.12L635.37 1349.07L636.42 1348.26L637.20 1347.95L637.98 1348.26L639.03 1349.07L639.84 1350.12ZM662.25 1189.30L661.94 1190.08L661.13 1191.13L660.08 1191.94L659.30 1192.25L658.52 1191.94L657.47 1191.13L656.66 1190.08L656.35 1189.30L656.66 1188.52L657.47 1187.47L658.52 1186.66L659.30 1186.35L660.08 1186.66L661.13 1187.47L661.94 1188.52ZM662.25 1233.10L661.94 1233.88L661.13 1234.93L660.08 1235.74L659.30 1236.05L658.52 1235.74L657.47 1234.93L656.66 1233.88L656.35 1233.10L656.66 1232.32L657.47 1231.27L658.52 1230.46L659.30 1230.15L660.08 1230.46L661.13 1231.27L661.94 1232.32ZM662.25 1280.00L661.94 1280.78L661.13 1281.83L660.08 1282.64L659.30 1282.95L658.52 1282.64L657.47 1281.83L656.66 1280.78L656.35 1280.00L656.66 1279.22L657.47 1278.17L658.52 1277.36L659.30 1277.05L660.08 1277.36L661.13 1278.17L661.94 1279.22ZM662.25 1316.50L661.94 1317.28L661.13 1318.33L660.08 1319.14L659.30 1319.45L658.52 1319.14L657.47 1318.33L656.66 1317.28L656.35 1316.50L656.66 1315.72L657.47 1314.67L658.52 1313.86L659.30 1313.55L660.08 1313.86L661.13 1314.67L661.94 1315.72ZM662.25 1318.30L661.94 1319.08L661.13 1320.13L660.08 1320.94L659.30 1321.25L658.52 1320.94L657.47 1320.13L656.66 1319.08L656.35 1318.30L656.66 1317.52L657.47 1316.47L658.52 1315.66L659.30 1315.35L660.08 1315.66L661.13 1316.47L661.94 1317.52ZM662.25 1326.40L661.94 1327.18L661.13 1328.23L660.08 1329.04L659.30 1329.35L658.52 1329.04L657.47 1328.23L656.66 1327.18L656.35 1326.40L656.66 1325.62L657.47 1324.57L658.52 1323.76L659.30 1323.45L660.08 1323.76L661.13 1324.57L661.94 1325.62ZM698.55 1205.20L698.24 1205.98L697.43 1207.03L696.38 1207.84L695.60 1208.15L694.82 1207.84L693.77 1207.03L692.96 1205.98L692.65 1205.20L692.96 1204.42L693.77 1203.37L694.82 1202.56L695.60 1202.25L696.38 1202.56L697.43 1203.37L698.24 1204.42ZM698.55 1277.60L698.24 1278.38L697.43 1279.43L696.38 1280.24L695.60 1280.55L694.82 1280.24L693.77 1279.43L692.96 1278.38L692.65 1277.60L692.96 1276.82L693.77 1275.77L694.82 1274.96L695.60 1274.65L696.38 1274.96L697.43 1275.77L698.24 1276.82ZM698.55 1286.00L698.24 1286.78L697.43 1287.83L696.38 1288.64L695.60 1288.95L694.82 1288.64L693.77 1287.83L692.96 1286.78L692.65 1286.00L692.96 1285.22L693.77 1284.17L694.82 1283.36L695.60 1283.05L696.38 1283.36L697.43 1284.17L698.24 1285.22ZM698.55 1304.00L698.24 1304.78L697.43 1305.83L696.38 1306.64L695.60 1306.95L694.82 1306.64L693.77 1305.83L692.96 1304.78L692.65 1304.00L692.96 1303.22L693.77 1302.17L694.82 1301.36L695.60 1301.05L696.38 1301.36L697.43 1302.17L698.24 1303.22ZM698.55 1308.90L698.24 1309.68L697.43 1310.73L696.38 1311.54L695.60 1311.85L694.82 1311.54L693.77 1310.73L692.96 1309.68L692.65 1308.90L692.96 1308.12L693.77 1307.07L694.82 1306.26L695.60 1305.95L696.38 1306.26L697.43 1307.07L698.24 1308.12ZM720.65 1097.10L720.34 1097.88L719.53 1098.93L718.48 1099.74L717.70 1100.05L716.92 1099.74L715.87 1098.93L715.06 1097.88L714.75 1097.10L715.06 1096.32L715.87 1095.27L716.92 1094.46L717.70 1094.15L718.48 1094.46L719.53 1095.27L720.34 1096.32ZM720.65 1247.10L720.34 1247.88L719.53 1248.93L718.48 1249.74L717.70 1250.05L716.92 1249.74L715.87 1248.93L715.06 1247.88L714.75 1247.10L715.06 1246.32L715.87 1245.27L716.92 1244.46L717.70 1244.15L718.48 1244.46L719.53 1245.27L720.34 1246.32Z" fill="#000"/>
</g>
<path d="M460.8 1162.2H484.8" stroke="#000" stroke-width="1.9" fill="none"/>
<text x="472.5" y="1161.9" class="star">*</text>
<path d="M575.7 1229.4H599.4" stroke="#000" stroke-width="1.9" fill="none"/>
<text x="587.2" y="1228.6" class="star">*</text>
<path d="M636.4 1183H660.1" stroke="#000" stroke-width="1.9" fill="none"/>
<text x="647.9" y="1183" class="star">*</text>
<path d="M694.8 1088.2H718.8" stroke="#000" stroke-width="1.9" fill="none"/>
<text x="699.5" y="1089" class="star">*</text>
<text x="707.3" y="1089" class="star">*</text>
<text x="715.1" y="1089" class="star">*</text>
<text x="431.1" y="896" class="title" textLength="55.5" lengthAdjust="spacingAndGlyphs">MAPT</text>
<path d="M782.9 910.7V1577.3H1434" stroke="#727272" stroke-width="2.3" fill="none"/>
<path d="M779.4 1097.3H782.9M779.4 1322.7H782.9M779.4 1546.2H782.9M829.8 1577.3V1579.7M909.4 1577.3V1579.7M989 1577.3V1579.7M1068.6 1577.3V1579.7M1148.2 1577.3V1579.7M1227.8 1577.3V1579.7M1307.4 1577.3V1579.7M1387 1577.3V1579.7" stroke="#444" stroke-width="1.2" fill="none"/>
<text transform="translate(775.9 1101.8) scale(0.935 1)" class="tk" text-anchor="end">20</text>
<text transform="translate(775.9 1327.2) scale(0.935 1)" class="tk" text-anchor="end">10</text>
<text transform="translate(775.9 1550.7) scale(0.935 1)" class="tk" text-anchor="end">0</text>
<text transform="translate(829.8 1593) scale(0.935 1)" class="tk" text-anchor="middle">CpG 01</text>
<text transform="translate(909.4 1593) scale(0.935 1)" class="tk" text-anchor="middle">CpG 02</text>
<text transform="translate(989 1593) scale(0.935 1)" class="tk" text-anchor="middle">CpG 03</text>
<text transform="translate(1068.6 1593) scale(0.935 1)" class="tk" text-anchor="middle">CpG 04</text>
<text transform="translate(1148.2 1593) scale(0.935 1)" class="tk" text-anchor="middle">CpG 05</text>
<text transform="translate(1227.8 1593) scale(0.935 1)" class="tk" text-anchor="middle">CpG 06</text>
<text transform="translate(1307.4 1593) scale(0.935 1)" class="tk" text-anchor="middle">CpG 07</text>
<text transform="translate(1387 1593) scale(0.935 1)" class="tk" text-anchor="middle">CpG 25</text>
<g id="b-snca">
<path d="M815.5 1197.9V1279.7M815.5 1340.2V1417.6M845 1162.7V1256.3M845 1348.8V1417M894.7 1299.3V1386.6M894.7 1445.4V1502.3M924.7 1296.1V1383.4M924.7 1448.6V1545.5M974.7 1320.1V1395.2M974.7 1462.1V1545.5M1004.4 1303.7V1389.4M1004.4 1447.3V1482.7M1054.5 1378.7V1441.8M1054.5 1489.5V1545.5M1083.6 1364.4V1431.1M1083.6 1480.4V1545.5M1133.4 1428.8V1481.4M1133.4 1521.3V1545.5M1163.4 1410.5V1471.8M1163.4 1524.9V1545.5M1212.9 1344.1V1399.3M1212.9 1458.2V1545.5M1243.1 1344.6V1396.2M1243.1 1443.6V1480.4M1292.9 1226.8V1331.8M1292.9 1432.7V1479.6M1322.1 1243.8V1338.9M1322.1 1418.9V1485.6M1371.9 1120.5V1238M1371.9 1336.5V1417.6M1401.8 1017.6V1172.1M1401.8 1293V1391.5" stroke="#828282" stroke-width="1.9" fill="none"/>
<rect x="802" y="1279.7" width="26.8" height="60.5" fill="#F8766D" stroke="#2b2b2b" stroke-width="1.25"/>
<rect x="832" y="1256.3" width="26.7" height="92.5" fill="#00BFC4" stroke="#2b2b2b" stroke-width="1.25"/>
<rect x="881.7" y="1386.6" width="26.8" height="58.8" fill="#F8766D" stroke="#2b2b2b" stroke-width="1.25"/>
<rect x="911.7" y="1383.4" width="26.8" height="65.2" fill="#00BFC4" stroke="#2b2b2b" stroke-width="1.25"/>
<rect x="961" y="1395.2" width="26.7" height="66.9" fill="#F8766D" stroke="#2b2b2b" stroke-width="1.25"/>
<rect x="990.9" y="1389.4" width="26.8" height="57.9" fill="#00BFC4" stroke="#2b2b2b" stroke-width="1.25"/>
<rect x="1040.7" y="1441.8" width="26.8" height="47.7" fill="#F8766D" stroke="#2b2b2b" stroke-width="1.25"/>
<rect x="1070.4" y="1431.1" width="27.3" height="49.3" fill="#00BFC4" stroke="#2b2b2b" stroke-width="1.25"/>
<rect x="1120.7" y="1481.4" width="26.8" height="39.9" fill="#F8766D" stroke="#2b2b2b" stroke-width="1.25"/>
<rect x="1150.4" y="1471.8" width="26.5" height="53.1" fill="#00BFC4" stroke="#2b2b2b" stroke-width="1.25"/>
<rect x="1199.7" y="1399.3" width="26.7" height="58.9" fill="#F8766D" stroke="#2b2b2b" stroke-width="1.25"/>
<rect x="1229.6" y="1396.2" width="26.5" height="47.4" fill="#00BFC4" stroke="#2b2b2b" stroke-width="1.25"/>
<rect x="1279.4" y="1331.8" width="26.8" height="100.9" fill="#F8766D" stroke="#2b2b2b" stroke-width="1.25"/>
<rect x="1309.4" y="1338.9" width="26.7" height="80" fill="#00BFC4" stroke="#2b2b2b" stroke-width="1.25"/>
<rect x="1358.9" y="1238" width="27" height="98.5" fill="#F8766D" stroke="#2b2b2b" stroke-width="1.25"/>
<rect x="1389.4" y="1172.1" width="26.2" height="120.9" fill="#00BFC4" stroke="#2b2b2b" stroke-width="1.25"/>
<path d="M802 1309.9H828.8M832 1312.6H858.7M881.7 1429.6H908.5M911.7 1412.9H938.5M961 1432.7H987.7M990.9 1418.9H1017.7M1040.7 1460.6H1067.5M1070.4 1454.6H1097.7M1120.7 1502.5H1147.5M1150.4 1490.8H1176.9M1199.7 1439.5H1226.4M1229.6 1421H1256.1M1279.4 1393.9H1306.2M1309.4 1387.9H1336.1M1358.9 1300.8H1385.9M1389.4 1247.7H1415.6" stroke="#0c0c0c" stroke-width="2.2" fill="none"/>
<path d="M818.45 1129.90L818.14 1130.68L817.33 1131.73L816.28 1132.54L815.50 1132.85L814.72 1132.54L813.67 1131.73L812.86 1130.68L812.55 1129.90L812.86 1129.12L813.67 1128.07L814.72 1127.26L815.50 1126.95L816.28 1127.26L817.33 1128.07L818.14 1129.12ZM818.45 1184.40L818.14 1185.18L817.33 1186.23L816.28 1187.04L815.50 1187.35L814.72 1187.04L813.67 1186.23L812.86 1185.18L812.55 1184.40L812.86 1183.62L813.67 1182.57L814.72 1181.76L815.50 1181.45L816.28 1181.76L817.33 1182.57L818.14 1183.62ZM847.95 1062.40L847.64 1063.18L846.83 1064.23L845.78 1065.04L845.00 1065.35L844.22 1065.04L843.17 1064.23L842.36 1063.18L842.05 1062.40L842.36 1061.62L843.17 1060.57L844.22 1059.76L845.00 1059.45L845.78 1059.76L846.83 1060.57L847.64 1061.62ZM847.95 1094.50L847.64 1095.28L846.83 1096.33L845.78 1097.14L845.00 1097.45L844.22 1097.14L843.17 1096.33L842.36 1095.28L842.05 1094.50L842.36 1093.72L843.17 1092.67L844.22 1091.86L845.00 1091.55L845.78 1091.86L846.83 1092.67L847.64 1093.72ZM847.95 1546.00L847.64 1546.78L846.83 1547.83L845.78 1548.64L845.00 1548.95L844.22 1548.64L843.17 1547.83L842.36 1546.78L842.05 1546.00L842.36 1545.22L843.17 1544.17L844.22 1543.36L845.00 1543.05L845.78 1543.36L846.83 1544.17L847.64 1545.22ZM897.65 1135.10L897.34 1135.88L896.53 1136.93L895.48 1137.74L894.70 1138.05L893.92 1137.74L892.87 1136.93L892.06 1135.88L891.75 1135.10L892.06 1134.32L892.87 1133.27L893.92 1132.46L894.70 1132.15L895.48 1132.46L896.53 1133.27L897.34 1134.32ZM897.65 1213.00L897.34 1213.78L896.53 1214.83L895.48 1215.64L894.70 1215.95L893.92 1215.64L892.87 1214.83L892.06 1213.78L891.75 1213.00L892.06 1212.22L892.87 1211.17L893.92 1210.36L894.70 1210.05L895.48 1210.36L896.53 1211.17L897.34 1212.22ZM897.65 1546.00L897.34 1546.78L896.53 1547.83L895.48 1548.64L894.70 1548.95L893.92 1548.64L892.87 1547.83L892.06 1546.78L891.75 1546.00L892.06 1545.22L892.87 1544.17L893.92 1543.36L894.70 1543.05L895.48 1543.36L896.53 1544.17L897.34 1545.22ZM927.65 1124.70L927.34 1125.48L926.53 1126.53L925.48 1127.34L924.70 1127.65L923.92 1127.34L922.87 1126.53L922.06 1125.48L921.75 1124.70L922.06 1123.92L922.87 1122.87L923.92 1122.06L924.70 1121.75L925.48 1122.06L926.53 1122.87L927.34 1123.92ZM927.65 1281.30L927.34 1282.08L926.53 1283.13L925.48 1283.94L924.70 1284.25L923.92 1283.94L922.87 1283.13L922.06 1282.08L921.75 1281.30L922.06 1280.52L922.87 1279.47L923.92 1278.66L924.70 1278.35L925.48 1278.66L926.53 1279.47L927.34 1280.52ZM977.65 1120.80L977.34 1121.58L976.53 1122.63L975.48 1123.44L974.70 1123.75L973.92 1123.44L972.87 1122.63L972.06 1121.58L971.75 1120.80L972.06 1120.02L972.87 1118.97L973.92 1118.16L974.70 1117.85L975.48 1118.16L976.53 1118.97L977.34 1120.02ZM977.65 1247.40L977.34 1248.18L976.53 1249.23L975.48 1250.04L974.70 1250.35L973.92 1250.04L972.87 1249.23L972.06 1248.18L971.75 1247.40L972.06 1246.62L972.87 1245.57L973.92 1244.76L974.70 1244.45L975.48 1244.76L976.53 1245.57L977.34 1246.62ZM977.65 1273.70L977.34 1274.48L976.53 1275.53L975.48 1276.34L974.70 1276.65L973.92 1276.34L972.87 1275.53L972.06 1274.48L971.75 1273.70L972.06 1272.92L972.87 1271.87L973.92 1271.06L974.70 1270.75L975.48 1271.06L976.53 1271.87L977.34 1272.92ZM977.65 1292.20L977.34 1292.98L976.53 1294.03L975.48 1294.84L974.70 1295.15L973.92 1294.84L972.87 1294.03L972.06 1292.98L971.75 1292.20L972.06 1291.42L972.87 1290.37L973.92 1289.56L974.70 1289.25L975.48 1289.56L976.53 1290.37L977.34 1291.42ZM1007.35 1141.10L1007.04 1141.88L1006.23 1142.93L1005.18 1143.74L1004.40 1144.05L1003.62 1143.74L1002.57 1142.93L1001.76 1141.88L1001.45 1141.10L1001.76 1140.32L1002.57 1139.27L1003.62 1138.46L1004.40 1138.15L1005.18 1138.46L1006.23 1139.27L1007.04 1140.32ZM1007.35 1188.30L1007.04 1189.08L1006.23 1190.13L1005.18 1190.94L1004.40 1191.25L1003.62 1190.94L1002.57 1190.13L1001.76 1189.08L1001.45 1188.30L1001.76 1187.52L1002.57 1186.47L1003.62 1185.66L1004.40 1185.35L1005.18 1185.66L1006.23 1186.47L1007.04 1187.52ZM1007.35 1271.40L1007.04 1272.18L1006.23 1273.23L1005.18 1274.04L1004.40 1274.35L1003.62 1274.04L1002.57 1273.23L1001.76 1272.18L1001.45 1271.40L1001.76 1270.62L1002.57 1269.57L1003.62 1268.76L1004.40 1268.45L1005.18 1268.76L1006.23 1269.57L1007.04 1270.62ZM1007.35 1546.00L1007.04 1546.78L1006.23 1547.83L1005.18 1548.64L1004.40 1548.95L1003.62 1548.64L1002.57 1547.83L1001.76 1546.78L1001.45 1546.00L1001.76 1545.22L1002.57 1544.17L1003.62 1543.36L1004.40 1543.05L1005.18 1543.36L1006.23 1544.17L1007.04 1545.22ZM1057.45 1257.00L1057.14 1257.78L1056.33 1258.83L1055.28 1259.64L1054.50 1259.95L1053.72 1259.64L1052.67 1258.83L1051.86 1257.78L1051.55 1257.00L1051.86 1256.22L1052.67 1255.17L1053.72 1254.36L1054.50 1254.05L1055.28 1254.36L1056.33 1255.17L1057.14 1256.22ZM1086.55 1334.20L1086.24 1334.98L1085.43 1336.03L1084.38 1336.84L1083.60 1337.15L1082.82 1336.84L1081.77 1336.03L1080.96 1334.98L1080.65 1334.20L1080.96 1333.42L1081.77 1332.37L1082.82 1331.56L1083.60 1331.25L1084.38 1331.56L1085.43 1332.37L1086.24 1333.42ZM1136.35 1352.40L1136.04 1353.18L1135.23 1354.23L1134.18 1355.04L1133.40 1355.35L1132.62 1355.04L1131.57 1354.23L1130.76 1353.18L1130.45 1352.40L1130.76 1351.62L1131.57 1350.57L1132.62 1349.76L1133.40 1349.45L1134.18 1349.76L1135.23 1350.57L1136.04 1351.62ZM1136.35 1384.00L1136.04 1384.78L1135.23 1385.83L1134.18 1386.64L1133.40 1386.95L1132.62 1386.64L1131.57 1385.83L1130.76 1384.78L1130.45 1384.00L1130.76 1383.22L1131.57 1382.17L1132.62 1381.36L1133.40 1381.05L1134.18 1381.36L1135.23 1382.17L1136.04 1383.22ZM1136.35 1402.50L1136.04 1403.28L1135.23 1404.33L1134.18 1405.14L1133.40 1405.45L1132.62 1405.14L1131.57 1404.33L1130.76 1403.28L1130.45 1402.50L1130.76 1401.72L1131.57 1400.67L1132.62 1399.86L1133.40 1399.55L1134.18 1399.86L1135.23 1400.67L1136.04 1401.72ZM1136.35 1414.40L1136.04 1415.18L1135.23 1416.23L1134.18 1417.04L1133.40 1417.35L1132.62 1417.04L1131.57 1416.23L1130.76 1415.18L1130.45 1414.40L1130.76 1413.62L1131.57 1412.57L1132.62 1411.76L1133.40 1411.45L1134.18 1411.76L1135.23 1412.57L1136.04 1413.62ZM1166.35 1325.80L1166.04 1326.58L1165.23 1327.63L1164.18 1328.44L1163.40 1328.75L1162.62 1328.44L1161.57 1327.63L1160.76 1326.58L1160.45 1325.80L1160.76 1325.02L1161.57 1323.97L1162.62 1323.16L1163.40 1322.85L1164.18 1323.16L1165.23 1323.97L1166.04 1325.02ZM1166.35 1363.60L1166.04 1364.38L1165.23 1365.43L1164.18 1366.24L1163.40 1366.55L1162.62 1366.24L1161.57 1365.43L1160.76 1364.38L1160.45 1363.60L1160.76 1362.82L1161.57 1361.77L1162.62 1360.96L1163.40 1360.65L1164.18 1360.96L1165.23 1361.77L1166.04 1362.82ZM1166.35 1384.20L1166.04 1384.98L1165.23 1386.03L1164.18 1386.84L1163.40 1387.15L1162.62 1386.84L1161.57 1386.03L1160.76 1384.98L1160.45 1384.20L1160.76 1383.42L1161.57 1382.37L1162.62 1381.56L1163.40 1381.25L1164.18 1381.56L1165.23 1382.37L1166.04 1383.42ZM1215.85 1257.60L1215.54 1258.38L1214.73 1259.43L1213.68 1260.24L1212.90 1260.55L1212.12 1260.24L1211.07 1259.43L1210.26 1258.38L1209.95 1257.60L1210.26 1256.82L1211.07 1255.77L1212.12 1254.96L1212.90 1254.65L1213.68 1254.96L1214.73 1255.77L1215.54 1256.82ZM1215.85 1261.00L1215.54 1261.78L1214.73 1262.83L1213.68 1263.64L1212.90 1263.95L1212.12 1263.64L1211.07 1262.83L1210.26 1261.78L1209.95 1261.00L1210.26 1260.22L1211.07 1259.17L1212.12 1258.36L1212.90 1258.05L1213.68 1258.36L1214.73 1259.17L1215.54 1260.22ZM1215.85 1280.80L1215.54 1281.58L1214.73 1282.63L1213.68 1283.44L1212.90 1283.75L1212.12 1283.44L1211.07 1282.63L1210.26 1281.58L1209.95 1280.80L1210.26 1280.02L1211.07 1278.97L1212.12 1278.16L1212.90 1277.85L1213.68 1278.16L1214.73 1278.97L1215.54 1280.02ZM1215.85 1287.30L1215.54 1288.08L1214.73 1289.13L1213.68 1289.94L1212.90 1290.25L1212.12 1289.94L1211.07 1289.13L1210.26 1288.08L1209.95 1287.30L1210.26 1286.52L1211.07 1285.47L1212.12 1284.66L1212.90 1284.35L1213.68 1284.66L1214.73 1285.47L1215.54 1286.52ZM1246.05 1228.40L1245.74 1229.18L1244.93 1230.23L1243.88 1231.04L1243.10 1231.35L1242.32 1231.04L1241.27 1230.23L1240.46 1229.18L1240.15 1228.40L1240.46 1227.62L1241.27 1226.57L1242.32 1225.76L1243.10 1225.45L1243.88 1225.76L1244.93 1226.57L1245.74 1227.62ZM1246.05 1319.80L1245.74 1320.58L1244.93 1321.63L1243.88 1322.44L1243.10 1322.75L1242.32 1322.44L1241.27 1321.63L1240.46 1320.58L1240.15 1319.80L1240.46 1319.02L1241.27 1317.97L1242.32 1317.16L1243.10 1316.85L1243.88 1317.16L1244.93 1317.97L1245.74 1319.02ZM1246.05 1546.00L1245.74 1546.78L1244.93 1547.83L1243.88 1548.64L1243.10 1548.95L1242.32 1548.64L1241.27 1547.83L1240.46 1546.78L1240.15 1546.00L1240.46 1545.22L1241.27 1544.17L1242.32 1543.36L1243.10 1543.05L1243.88 1543.36L1244.93 1544.17L1245.74 1545.22ZM1325.05 1074.40L1324.74 1075.18L1323.93 1076.23L1322.88 1077.04L1322.10 1077.35L1321.32 1077.04L1320.27 1076.23L1319.46 1075.18L1319.15 1074.40L1319.46 1073.62L1320.27 1072.57L1321.32 1071.76L1322.10 1071.45L1322.88 1071.76L1323.93 1072.57L1324.74 1073.62ZM1325.05 1127.60L1324.74 1128.38L1323.93 1129.43L1322.88 1130.24L1322.10 1130.55L1321.32 1130.24L1320.27 1129.43L1319.46 1128.38L1319.15 1127.60L1319.46 1126.82L1320.27 1125.77L1321.32 1124.96L1322.10 1124.65L1322.88 1124.96L1323.93 1125.77L1324.74 1126.82ZM1325.05 1218.20L1324.74 1218.98L1323.93 1220.03L1322.88 1220.84L1322.10 1221.15L1321.32 1220.84L1320.27 1220.03L1319.46 1218.98L1319.15 1218.20L1319.46 1217.42L1320.27 1216.37L1321.32 1215.56L1322.10 1215.25L1322.88 1215.56L1323.93 1216.37L1324.74 1217.42ZM1374.85 927.70L1374.54 928.48L1373.73 929.53L1372.68 930.34L1371.90 930.65L1371.12 930.34L1370.07 929.53L1369.26 928.48L1368.95 927.70L1369.26 926.92L1370.07 925.87L1371.12 925.06L1371.90 924.75L1372.68 925.06L1373.73 925.87L1374.54 926.92ZM1374.85 1006.60L1374.54 1007.38L1373.73 1008.43L1372.68 1009.24L1371.90 1009.55L1371.12 1009.24L1370.07 1008.43L1369.26 1007.38L1368.95 1006.60L1369.26 1005.82L1370.07 1004.77L1371.12 1003.96L1371.90 1003.65L1372.68 1003.96L1373.73 1004.77L1374.54 1005.82ZM1404.75 984.50L1404.44 985.28L1403.63 986.33L1402.58 987.14L1401.80 987.45L1401.02 987.14L1399.97 986.33L1399.16 985.28L1398.85 984.50L1399.16 983.72L1399.97 982.67L1401.02 981.86L1401.80 981.55L1402.58 981.86L1403.63 982.67L1404.44 983.72Z" fill="#000"/>
</g>
<path d="M1375.5 922.7H1399" stroke="#000" stroke-width="1.9" fill="none"/>
<text x="1380" y="923.8" class="star">*</text>
<text x="1387.2" y="923.8" class="star">*</text>
<text x="1394.8" y="923.8" class="star">*</text>
<text x="1108.1" y="897.4" class="title">SNCA</text>
<text x="765.6" y="1627" class="axl" textLength="159" lengthAdjust="spacingAndGlyphs">Northern Region</text>
<text transform="translate(56.8 1219.4) rotate(-90)" class="ayl" textLength="150" lengthAdjust="spacingAndGlyphs">Methylation (%)</text>
<text x="1471.8" y="1209.5" class="lgt" style="font-size:15.8px" textLength="43.4" lengthAdjust="spacingAndGlyphs">Group</text>
<rect x="1448.4" y="1230.1" width="16.5" height="13" fill="#F8766D" stroke="#a34c49" stroke-width="1"/>
<rect x="1448.4" y="1253" width="16.5" height="13.2" fill="#00BFC4" stroke="#0a8489" stroke-width="1"/>
<text x="1474.8" y="1244.8" class="lg" textLength="32.6" lengthAdjust="spacingAndGlyphs">Case</text>
<text x="1474.8" y="1266.1" class="lg" textLength="52" lengthAdjust="spacingAndGlyphs">Control</text>
</g>
</svg></body></html>
